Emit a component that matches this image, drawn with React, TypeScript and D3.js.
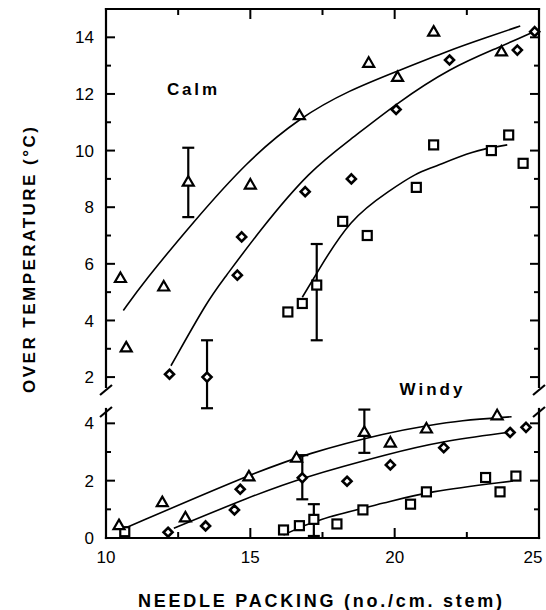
import React from 'react'
import { scaleLinear, line, curveBasis } from 'd3'

// axis ticks
const xTickValues = [10, 12.5, 15, 17.5, 20, 22.5, 25]
const xTickLabels = [10, 15, 20, 25]
const calmTickValues = [2, 3, 4, 5, 6, 7, 8, 9, 10, 11, 12, 13, 14]
const calmTickLabels = [2, 4, 6, 8, 10, 12, 14]
const windyTickValues = [0, 1, 2, 3, 4]
const windyTickLabels = [0, 2, 4]

// calm points
const calmTriX = [10.5, 10.7, 12.0, 12.85, 15.0, 16.7, 19.1, 20.1, 21.35, 23.7]
const calmTriY = [5.5, 3.05, 5.2, 8.9, 8.8, 11.25, 13.1, 12.6, 14.2, 13.5]
const calmDiaX = [12.2, 13.5, 14.55, 14.7, 16.9, 18.5, 20.05, 21.9, 24.25, 24.85]
const calmDiaY = [2.1, 2.0, 5.6, 6.95, 8.55, 9.0, 11.45, 13.2, 13.55, 14.2]
const calmSqX = [16.3, 16.8, 17.3, 18.2, 19.05, 20.75, 21.35, 23.35, 23.95, 24.45]
const calmSqY = [4.3, 4.6, 5.25, 7.5, 7.0, 8.7, 10.2, 10.0, 10.55, 9.55]

// calm error bars: x, low, high
const calmErrX = [12.85, 13.5, 17.3]
const calmErrLo = [7.65, 0.9, 3.3]
const calmErrHi = [10.1, 3.3, 6.7]

// calm fitted curves
const calmTriCurveX = [10.6, 11.3, 13.0, 14.88, 16.72, 18.45, 20.08, 21.92, 23.2, 24.35]
const calmTriCurveY = [4.35, 5.35, 7.45, 9.62, 11.18, 12.14, 12.8, 13.55, 14.0, 14.4]
const calmDiaCurveX = [12.25, 13.53, 14.05, 15.33, 17.07, 18.45, 20.08, 21.92, 23.65, 24.8]
const calmDiaCurveY = [2.4, 4.72, 5.42, 7.19, 9.31, 10.37, 11.68, 12.92, 13.66, 14.19]
const calmSqCurveX = [16.8, 17.3, 18.45, 19.84, 20.74, 21.33, 22.71, 23.9]
const calmSqCurveY = [4.82, 5.67, 7.6, 8.6, 9.2, 9.4, 10.0, 10.2]

// windy points
const windyTriX = [10.45, 11.95, 12.75, 14.95, 16.6, 18.95, 19.85, 21.1, 23.55]
const windyTriY = [0.45, 1.25, 0.72, 2.15, 2.8, 3.7, 3.33, 3.82, 4.28]
const windyDiaX = [12.15, 13.45, 14.45, 14.65, 16.8, 18.35, 19.85, 21.7, 24.0, 24.55]
const windyDiaY = [0.2, 0.42, 0.98, 1.7, 2.1, 1.98, 2.55, 3.15, 3.68, 3.86]
const windySqX = [10.65, 16.15, 16.7, 17.2, 18.0, 18.9, 20.55, 21.1, 23.15, 23.65, 24.2]
const windySqY = [0.22, 0.28, 0.43, 0.65, 0.49, 0.98, 1.18, 1.61, 2.11, 1.61, 2.16]

const windyErrX = [18.95, 16.8, 17.2]
const windyErrLo = [2.97, 1.35, 0.07]
const windyErrHi = [4.48, 2.89, 1.18]

const windyTriCurveX = [10.65, 14.85, 16.95, 19.85, 21.1, 22.25, 24.05]
const windyTriCurveY = [0.34, 2.16, 2.95, 3.7, 3.91, 4.1, 4.23]
const windyDiaCurveX = [12.35, 15.0, 16.8, 19.85, 21.55, 24.05]
const windyDiaCurveY = [0.34, 1.44, 2.11, 2.95, 3.36, 3.7]
const windySqCurveX = [16.15, 17.2, 19.85, 21.1, 24.1]
const windySqCurveY = [0.1, 0.63, 1.27, 1.61, 1.99]

const W = 546
const H = 610
const font = '"Liberation Sans", Arial, sans-serif'

const x = scaleLinear().domain([10, 25]).range([106, 539])
const yCalm = scaleLinear().domain([1.65, 15]).range([387, 9])
const yWindy = scaleLinear().domain([0, 4.5]).range([538, 409])

const zip = (xs: number[], ys: number[]) => xs.map((v, i) => [v, ys[i]] as [number, number])

const Tri = ({ cx, cy }: { cx: number; cy: number }) => (
  <path
    d={`M${cx},${cy - 5.5}L${cx + 5.5},${cy + 4}L${cx - 5.5},${cy + 4}Z`}
    fill='white'
    stroke='black'
    strokeWidth={2.2}
  />
)
const Dia = ({ cx, cy }: { cx: number; cy: number }) => (
  <path
    d={`M${cx},${cy - 4.5}L${cx + 4.5},${cy}L${cx},${cy + 4.5}L${cx - 4.5},${cy}Z`}
    fill='white'
    stroke='black'
    strokeWidth={2.6}
  />
)
const Sq = ({ cx, cy }: { cx: number; cy: number }) => (
  <rect x={cx - 4.5} y={cy - 4.5} width={9} height={9} fill='white' stroke='black' strokeWidth={2.2} />
)

const Panel = ({ y, triX, triY, diaX, diaY, sqX, sqY, errX, errLo, errHi, curves }: any) => {
  const ln = line<[number, number]>()
    .x((d) => x(d[0]))
    .y((d) => y(d[1]))
    .curve(curveBasis)
  return (
    <g>
      {curves.map((c: [number, number][], i: number) => (
        <path key={i} d={ln(c) || ''} fill='none' stroke='black' strokeWidth={1.6} />
      ))}
      {errX.map((v: number, i: number) => (
        <g key={i} stroke='black' strokeWidth={2.2}>
          <line x1={x(v)} x2={x(v)} y1={y(errLo[i])} y2={y(errHi[i])} />
          <line x1={x(v) - 6} x2={x(v) + 6} y1={y(errLo[i])} y2={y(errLo[i])} />
          <line x1={x(v) - 6} x2={x(v) + 6} y1={y(errHi[i])} y2={y(errHi[i])} />
        </g>
      ))}
      {zip(sqX, sqY).map((d, i) => (
        <Sq key={'s' + i} cx={x(d[0])} cy={y(d[1])} />
      ))}
      {zip(diaX, diaY).map((d, i) => (
        <Dia key={'d' + i} cx={x(d[0])} cy={y(d[1])} />
      ))}
      {zip(triX, triY).map((d, i) => (
        <Tri key={'t' + i} cx={x(d[0])} cy={y(d[1])} />
      ))}
    </g>
  )
}

const App = () => {
  const left = x(10)
  const right = x(25)
  const top = yCalm(15)
  const calmBottom = yCalm(1.65)
  const windyTop = yWindy(4.5)
  const bottom = yWindy(0)

  const yTicks = (y: any, values: number[], labels: number[]) =>
    values.map((v) => {
      const major = labels.includes(v)
      const len = major ? 9 : 5
      return (
        <g key={v}>
          <line x1={left} x2={left + len} y1={y(v)} y2={y(v)} stroke='black' strokeWidth={2} />
          <line x1={right} x2={right - len} y1={y(v)} y2={y(v)} stroke='black' strokeWidth={2} />
          {major && (
            <text x={94} y={y(v)} dy='0.36em' textAnchor='end' fontSize={17} fontFamily={font}>
              {v}
            </text>
          )}
        </g>
      )
    })

  const brk = (cx: number, cy: number, key: string) => (
    <line key={key} x1={cx - 6} y1={cy + 5} x2={cx + 6} y2={cy - 5} stroke='black' strokeWidth={2.2} />
  )

  return (
    <div style={{ position: 'absolute', left: 0, top: 0 }}>
      <svg width={W} height={H} style={{ display: 'block', background: 'white' }}>
        {/* frame */}
        <g stroke='black' strokeWidth={2.2} fill='none' strokeLinecap='square'>
          <line x1={left} x2={right} y1={top} y2={top} />
          <line x1={left} x2={right} y1={bottom} y2={bottom} />
          <line x1={left} x2={left} y1={top} y2={calmBottom} />
          <line x1={right} x2={right} y1={top} y2={calmBottom} />
          <line x1={left} x2={left} y1={windyTop} y2={bottom} />
          <line x1={right} x2={right} y1={windyTop} y2={bottom} />
        </g>
        {brk(left, calmBottom + 3, 'b1')}
        {brk(left, windyTop + 3, 'b2')}
        {brk(right, calmBottom + 3, 'b3')}
        {brk(right, windyTop + 3, 'b4')}

        {/* x ticks */}
        {xTickValues.map((v) => {
          const len = v % 5 === 0 ? 10 : 6
          return (
            <g key={v} stroke='black' strokeWidth={2}>
              <line x1={x(v)} x2={x(v)} y1={bottom} y2={bottom - len} />
              <line x1={x(v)} x2={x(v)} y1={top} y2={top + len} />
            </g>
          )
        })}
        {xTickLabels.map((v) => (
          <text key={v} x={Math.min(x(v), W - 13)} y={563} textAnchor='middle' fontSize={17} fontFamily={font}>
            {v}
          </text>
        ))}

        {yTicks(yCalm, calmTickValues, calmTickLabels)}
        {yTicks(yWindy, windyTickValues, windyTickLabels)}

        <Panel
          y={yCalm}
          triX={calmTriX}
          triY={calmTriY}
          diaX={calmDiaX}
          diaY={calmDiaY}
          sqX={calmSqX}
          sqY={calmSqY}
          errX={calmErrX}
          errLo={calmErrLo}
          errHi={calmErrHi}
          curves={[
            zip(calmTriCurveX, calmTriCurveY),
            zip(calmDiaCurveX, calmDiaCurveY),
            zip(calmSqCurveX, calmSqCurveY),
          ]}
        />
        <Panel
          y={yWindy}
          triX={windyTriX}
          triY={windyTriY}
          diaX={windyDiaX}
          diaY={windyDiaY}
          sqX={windySqX}
          sqY={windySqY}
          errX={windyErrX}
          errLo={windyErrLo}
          errHi={windyErrHi}
          curves={[
            zip(windyTriCurveX, windyTriCurveY),
            zip(windyDiaCurveX, windyDiaCurveY),
            zip(windySqCurveX, windySqCurveY),
          ]}
        />

        <text x={192} y={95} textAnchor='middle' fontSize={17} fontWeight='bold' fontFamily={font} textLength={50} lengthAdjust='spacing'>
          Calm
        </text>
        <text x={431} y={395} textAnchor='middle' fontSize={17} fontWeight='bold' fontFamily={font} textLength={63} lengthAdjust='spacing'>
          Windy
        </text>

        <text
          transform='translate(35,260) rotate(-90)'
          textAnchor='middle'
          fontSize={17}
          fontWeight='bold'
          fontFamily={font}
          textLength={266}
          lengthAdjust='spacing'
        >
          OVER TEMPERATURE (°C)
        </text>
        <text x={320} y={607} textAnchor='middle' fontSize={18} fontWeight='bold' fontFamily={font} textLength={364} lengthAdjust='spacing'>
          NEEDLE PACKING (no./cm. stem)
        </text>
      </svg>
    </div>
  )
}

export default App
